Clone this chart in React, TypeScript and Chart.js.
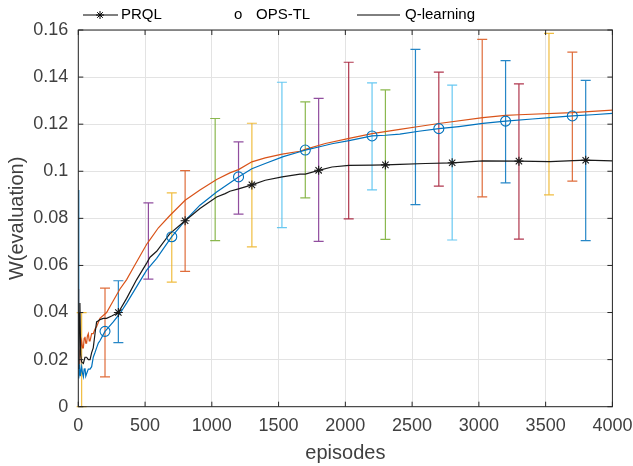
import React, { useEffect, useRef } from 'react';
import { Chart, registerables } from 'chart.js';
Chart.register(...registerables);

// ---------- data ----------
const seriesNames = ['PRQL', 'OPS-TL', 'Q-learning'];

const prqlX = [0, 3, 8, 12, 18, 25, 38, 50, 62, 75, 88, 100, 112, 125, 137, 150, 162, 187, 212, 250, 300, 362, 437, 512, 537, 587, 686, 800, 911, 1036, 1100, 1135, 1200, 1300, 1400, 1527, 1660, 1700, 1800, 1900, 2028, 2200, 2300, 2408, 2600, 2800, 3030, 3300, 3531, 3800, 4000];
const prqlY = [0.040, 0.016, 0.038, 0.044, 0.022, 0.019, 0.0184, 0.021, 0.021, 0.020, 0.020, 0.023, 0.025, 0.031, 0.036, 0.0365, 0.037, 0.0375, 0.0375, 0.0385, 0.040, 0.046, 0.054, 0.061, 0.0635, 0.066, 0.0735, 0.079, 0.0842, 0.0891, 0.0905, 0.0915, 0.0925, 0.0942, 0.0962, 0.0976, 0.0988, 0.0988, 0.1004, 0.1018, 0.1025, 0.1026, 0.1027, 0.1029, 0.1033, 0.1036, 0.1044, 0.1043, 0.1041, 0.1047, 0.1044];

const opsX = [0, 2, 5, 10, 15, 25, 32, 38, 44, 50, 56, 62, 75, 88, 100, 112, 125, 137, 150, 162, 200, 262, 312, 362, 437, 512, 587, 700, 800, 911, 1036, 1200, 1300, 1400, 1535, 1660, 1700, 1800, 1900, 2028, 2200, 2300, 2408, 2550, 2700, 2850, 3030, 3200, 3400, 3531, 3700, 3850, 4000];
const opsY = [0.092, 0.020, 0.012, 0.018, 0.013, 0.017, 0.014, 0.0127, 0.016, 0.0163, 0.013, 0.014, 0.016, 0.016, 0.017, 0.021, 0.023, 0.025, 0.027, 0.028, 0.032, 0.036, 0.0396, 0.044, 0.051, 0.058, 0.063, 0.0722, 0.079, 0.0856, 0.0912, 0.0976, 0.1011, 0.1033, 0.1062, 0.1083, 0.1090, 0.1103, 0.1117, 0.1130, 0.1150, 0.1153, 0.1158, 0.1170, 0.1181, 0.1190, 0.1203, 0.1213, 0.1222, 0.1228, 0.1235, 0.1240, 0.1246];

const qX = [0, 3, 6, 10, 15, 25, 32, 38, 44, 50, 56, 62, 68, 75, 82, 88, 100, 112, 125, 137, 162, 212, 262, 312, 362, 412, 462, 512, 537, 600, 686, 800, 911, 1036, 1135, 1200, 1300, 1400, 1527, 1660, 1700, 1850, 2028, 2200, 2408, 2550, 2700, 3030, 3200, 3300, 3700, 4000];
const qY = [0.050, 0.035, 0.022, 0.018, 0.024, 0.028, 0.025, 0.025, 0.029, 0.0297, 0.027, 0.027, 0.030, 0.031, 0.028, 0.028, 0.031, 0.031, 0.033, 0.034, 0.0375, 0.040, 0.045, 0.050, 0.054, 0.059, 0.064, 0.069, 0.071, 0.076, 0.0812, 0.0877, 0.0920, 0.0965, 0.0993, 0.1007, 0.1040, 0.1057, 0.1073, 0.1085, 0.1093, 0.1118, 0.1140, 0.1160, 0.1178, 0.1190, 0.1203, 0.1228, 0.1237, 0.1240, 0.1249, 0.1260];

const prqlMarkX = [300, 800, 1300, 1800, 2300, 2800, 3300, 3800];
const prqlMarkY = [0.040, 0.079, 0.0942, 0.1004, 0.1027, 0.1036, 0.1043, 0.1047];
const opsMarkX = [200, 700, 1200, 1700, 2200, 2700, 3200, 3700];
const opsMarkY = [0.032, 0.0722, 0.0976, 0.1090, 0.1150, 0.1181, 0.1213, 0.1235];

const errX = [25, 200, 300, 525, 700, 800, 1025, 1200, 1300, 1525, 1700, 1800, 2025, 2200, 2300, 2525, 2700, 2800, 3025, 3200, 3300, 3525, 3700, 3800];
const errLow = [0.000, 0.0127, 0.0272, 0.0542, 0.0529, 0.0575, 0.0705, 0.0818, 0.0679, 0.0761, 0.0887, 0.0702, 0.0798, 0.0921, 0.0711, 0.0858, 0.0937, 0.0708, 0.0891, 0.0951, 0.0712, 0.0900, 0.0958, 0.0705];
const errHigh = [0.040, 0.0504, 0.0535, 0.0866, 0.0908, 0.1003, 0.1224, 0.1125, 0.1204, 0.1378, 0.1295, 0.1310, 0.1463, 0.1375, 0.1346, 0.1518, 0.1421, 0.1366, 0.1560, 0.1470, 0.1371, 0.1586, 0.1506, 0.1386];

const xTickValues = [0, 500, 1000, 1500, 2000, 2500, 3000, 3500, 4000];
const xTickLabels = ['0', '500', '1000', '1500', '2000', '2500', '3000', '3500', '4000'];
const yTickValues = [0, 0.02, 0.04, 0.06, 0.08, 0.1, 0.12, 0.14, 0.16];
const yTickLabels = ['0', '0.02', '0.04', '0.06', '0.08', '0.1', '0.12', '0.14', '0.16'];

// ---------- styles ----------
const C = {
  blue: '#0072BD', orange: '#D95319', yellow: '#EDB120', purple: '#7E2F8E',
  green: '#77AC30', cyan: '#4DBEEE', red: '#A2142F',
};
const errColors = [C.yellow, C.orange, C.blue, C.purple, C.yellow, C.orange, C.green, C.purple, C.yellow, C.cyan, C.green, C.purple, C.red, C.cyan, C.green, C.blue, C.red, C.cyan, C.orange, C.blue, C.red, C.yellow, C.orange, C.blue];
const FONT = '"Liberation Sans", Arial, Helvetica, sans-serif';
const AXIS = '#262626';
const LABEL = '#404040';

const toXY = (xs: number[], ys: number[]) => xs.map((x, i) => ({ x, y: ys[i] }));

export default function App() {
  const ref = useRef<HTMLCanvasElement>(null);

  useEffect(() => {
    const canvas = ref.current;
    if (!canvas) return;

    const errorBars = {
      id: 'errorBars',
      beforeDatasetsDraw(chart: any) {
        const { ctx, scales } = chart;
        const xs = scales.x, ys = scales.y;
        ctx.save();
        ctx.lineWidth = 1.2;
        ctx.globalAlpha = 0.85;
        errX.forEach((ex, i) => {
          const px = xs.getPixelForValue(ex);
          const lo = ys.getPixelForValue(errLow[i]);
          const hi = ys.getPixelForValue(errHigh[i]);
          ctx.strokeStyle = errColors[i];
          ctx.beginPath();
          ctx.moveTo(px, lo); ctx.lineTo(px, hi);
          ctx.moveTo(px - 5, lo); ctx.lineTo(px + 5, lo);
          ctx.moveTo(px - 5, hi); ctx.lineTo(px + 5, hi);
          ctx.stroke();
        });
        ctx.restore();
      },
    };

    const frame = {
      id: 'frame',
      afterDraw(chart: any) {
        const { ctx, chartArea, scales } = chart;
        const { left, right, top, bottom } = chartArea;
        ctx.save();
        ctx.strokeStyle = AXIS;
        ctx.lineWidth = 1;
        ctx.strokeRect(left, top, right - left, bottom - top);
        ctx.beginPath();
        xTickValues.forEach((v) => {
          const px = scales.x.getPixelForValue(v);
          ctx.moveTo(px, bottom); ctx.lineTo(px, bottom - 5);
          ctx.moveTo(px, top); ctx.lineTo(px, top + 5);
        });
        yTickValues.forEach((v) => {
          const py = scales.y.getPixelForValue(v);
          ctx.moveTo(left, py); ctx.lineTo(left + 5, py);
          ctx.moveTo(right, py); ctx.lineTo(right - 5, py);
        });
        ctx.stroke();

        // legend
        const ly = 15;
        ctx.font = `15px ${FONT}`;
        ctx.fillStyle = '#000';
        ctx.textBaseline = 'middle';
        ctx.textAlign = 'left';
        ctx.strokeStyle = '#000';
        ctx.beginPath();
        ctx.moveTo(83, ly); ctx.lineTo(118, ly);
        const sx = 100, r = 4;
        ctx.moveTo(sx - r, ly); ctx.lineTo(sx + r, ly);
        ctx.moveTo(sx, ly - r); ctx.lineTo(sx, ly + r);
        ctx.moveTo(sx - r * 0.7, ly - r * 0.7); ctx.lineTo(sx + r * 0.7, ly + r * 0.7);
        ctx.moveTo(sx - r * 0.7, ly + r * 0.7); ctx.lineTo(sx + r * 0.7, ly - r * 0.7);
        ctx.moveTo(357, ly); ctx.lineTo(400, ly);
        ctx.stroke();
        ctx.fillText(seriesNames[0], 121, ly);
        ctx.fillText('o', 234, ly);
        ctx.fillText(seriesNames[1], 256, ly);
        ctx.fillText(seriesNames[2], 405, ly);
        ctx.restore();
      },
    };

    const chart = new Chart(canvas, {
      type: 'line',
      data: {
        datasets: [
          {
            label: seriesNames[0] + ' markers',
            data: toXY(prqlMarkX, prqlMarkY),
            showLine: false,
            pointStyle: 'star',
            pointRadius: 4.5,
            pointBorderWidth: 1.1,
            borderColor: '#1a1a1a',
            backgroundColor: 'rgba(0,0,0,0)',
          },
          {
            label: seriesNames[1] + ' markers',
            data: toXY(opsMarkX, opsMarkY),
            showLine: false,
            pointStyle: 'circle',
            pointRadius: 5,
            pointBorderWidth: 1.1,
            borderColor: C.blue,
            backgroundColor: 'rgba(0,0,0,0)',
          },
          {
            label: seriesNames[0],
            data: toXY(prqlX, prqlY),
            borderColor: '#1a1a1a',
            borderWidth: 1.2,
            pointRadius: 0,
            tension: 0,
          },
          {
            label: seriesNames[1],
            data: toXY(opsX, opsY),
            borderColor: C.blue,
            borderWidth: 1.2,
            pointRadius: 0,
            tension: 0,
          },
          {
            label: seriesNames[2],
            data: toXY(qX, qY),
            borderColor: C.orange,
            borderWidth: 1.2,
            pointRadius: 0,
            tension: 0,
          },
        ],
      },
      options: {
        responsive: false,
        animation: false,
        events: [],
        layout: { padding: { top: 30, right: 20.6, left: 0, bottom: 0 } },
        plugins: { legend: { display: false }, tooltip: { enabled: false } },
        scales: {
          x: {
            type: 'linear',
            min: 0,
            max: 4000,
            afterFit: (s: any) => { s.height = 59.3; s.paddingLeft = 0; s.paddingRight = 0; },
            afterBuildTicks: (s: any) => { s.ticks = xTickValues.map((v) => ({ value: v })); },
            ticks: {
              callback: (_v: any, i: number) => xTickLabels[i],
              font: { family: FONT, size: 18 },
              color: LABEL,
              padding: 9,
              maxRotation: 0,
              autoSkip: false,
            },
            grid: { color: '#e3e3e3', drawTicks: false, lineWidth: 1 },
            border: { display: false },
            title: {
              display: true,
              text: 'episodes',
              font: { family: FONT, size: 20 },
              color: LABEL,
              padding: { top: 0, bottom: 1 },
            },
          },
          y: {
            type: 'linear',
            min: 0,
            max: 0.16,
            afterFit: (s: any) => { s.width = 78.3; s.paddingTop = 0; s.paddingBottom = 0; },
            afterBuildTicks: (s: any) => { s.ticks = yTickValues.map((v) => ({ value: v })); },
            ticks: {
              callback: (_v: any, i: number) => yTickLabels[i],
              font: { family: FONT, size: 18 },
              color: LABEL,
              padding: 10,
              autoSkip: false,
            },
            grid: { color: '#e3e3e3', drawTicks: false, lineWidth: 1 },
            border: { display: false },
            title: {
              display: true,
              text: 'W(evaluation)',
              font: { family: FONT, size: 20 },
              color: LABEL,
              padding: { top: 5, bottom: 0 },
            },
          },
        },
      },
      plugins: [errorBars, frame],
    } as any);

    return () => chart.destroy();
  }, []);

  return (
    <div style={{ position: 'fixed', left: 0, top: 0, width: 633, height: 466, background: '#fff' }}>
      <canvas ref={ref} width={633} height={466} style={{ display: 'block' }} />
    </div>
  );
}
